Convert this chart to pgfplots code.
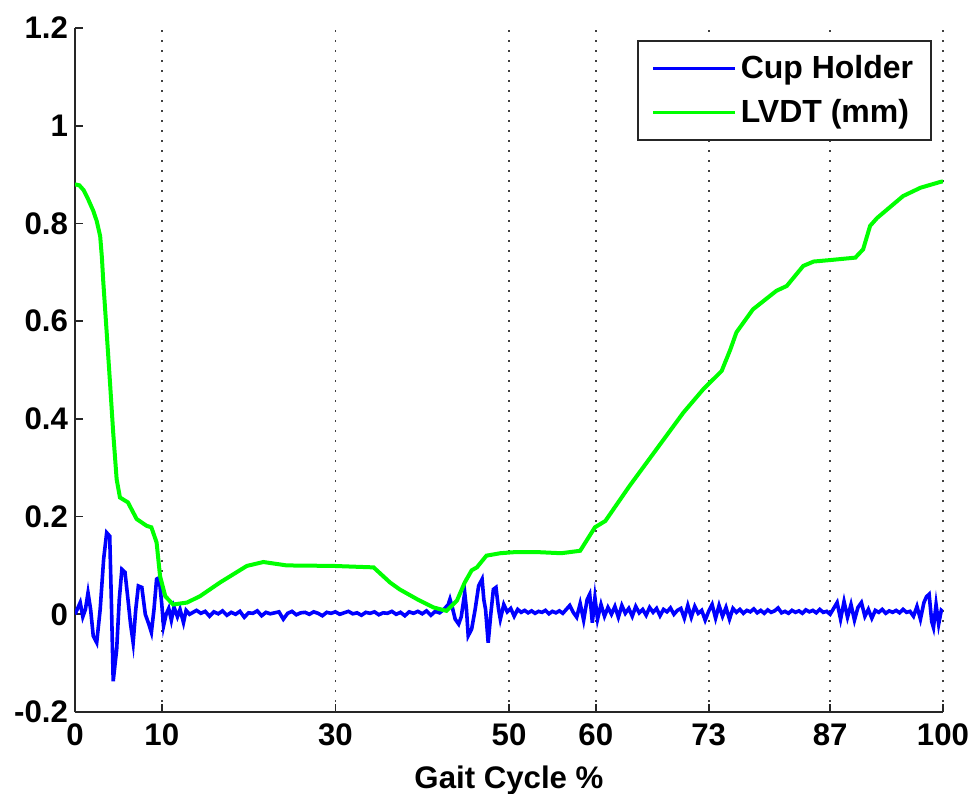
\documentclass[border=0pt]{standalone}
\usepackage{fontspec}
\setmainfont{Liberation Sans}
\usepackage{pgfplots}
\pgfplotsset{compat=1.18}
\usetikzlibrary{calc}

\definecolor{cupblue}{RGB}{0,0,255}
\definecolor{lvdtgreen}{RGB}{0,255,0}

\newcommand{\chartfont}{\bfseries\fontsize{15.6}{18}\selectfont}
\newcommand{\legendfont}{\bfseries\fontsize{16}{18}\selectfont}

\begin{document}
\begin{tikzpicture}
\begin{axis}[
  scale only axis,
  width=434pt, height=342pt,
  xmin=0, xmax=100, ymin=-0.2, ymax=1.2,
  axis x line=bottom, axis y line=left,
  axis line style={-, line width=0.9pt, black!85},
  xtick={0,10,30,50,60,73,87,100},
  xticklabels={0,10,30,50,60,73,87,100},
  ytick={-0.2,0,0.2,0.4,0.6,0.8,1,1.2},
  yticklabels={-0.2,0,0.2,0.4,0.6,0.8,1,1.2},
  tick align=inside,
  major tick length=4pt,
  major tick style={line width=0.9pt, black!85},
  every tick label/.append style={font=\chartfont, text=black},
  xticklabel style={yshift=-2.5pt},
  xmajorgrids,
  major grid style={black!75, line width=0.9pt, dash pattern=on 0.9pt off 4.1pt},
  xlabel={Gait Cycle \%},
  xlabel style={font=\chartfont, yshift=-3pt},
  legend cell align=left,
  legend style={
    at={(axis description cs:1,1)}, anchor=north east,
    xshift=-5.5pt, yshift=-6pt,
    draw=black!85, line width=0.8pt, fill=white,
    font=\legendfont,
    inner xsep=7pt, inner ysep=5.5pt,
    row sep=4.5pt,
  },
  legend image code/.code={\draw[#1, line width=1.5pt] (0pt,0pt) -- (41pt,0pt);},
]

% Cup holder signal
\addplot[cupblue, line width=1.8pt] coordinates {
(0,0.000) (0.3,0.012) (0.6,0.024) (0.9,-0.005) (1.2,0.010) (1.5,0.044)
(1.8,0.010) (2.1,-0.044) (2.5,-0.058) (2.9,0.010) (3.3,0.113) (3.65,0.167)
(4.0,0.160) (4.2,0.020) (4.4,-0.137) (4.8,-0.072) (5.1,0.030) (5.4,0.092)
(5.76,0.086) (6.1,0.031) (6.4,-0.020) (6.7,-0.058) (7.0,0.010) (7.3,0.058)
(7.7,0.055) (8.1,0.000) (8.5,-0.020) (8.8,-0.037) (9.1,0.010) (9.4,0.072)
(9.7,0.075) (10.0,0.020) (10.2,-0.024) (10.5,0.000) (10.8,0.012) (11.1,-0.012)
(11.4,0.015) (11.8,-0.005) (12.1,0.010) (12.5,-0.017) (12.8,0.008) (13.2,0.000)
(13.6,0.004) (14.0,0.008) (14.5,0.002) (15.0,0.006) (15.5,-0.004) (16.0,0.005)
(16.5,0.001) (17.0,0.007) (17.5,-0.002) (18.0,0.004) (18.5,0.000) (19.0,0.006)
(19.5,-0.006) (20.0,0.003) (20.5,0.002) (21.0,0.007) (21.5,-0.003) (22.0,0.004)
(22.5,0.001) (23.0,0.003) (23.5,0.005) (24.0,-0.010) (24.5,0.002) (25.0,0.006)
(25.5,-0.001) (26.0,0.003) (26.5,0.004) (27.0,0.000) (27.5,0.005) (28.0,0.002)
(28.5,-0.003) (29.0,0.004) (29.5,0.002) (30.0,0.005) (30.5,0.000) (31.0,0.003)
(31.5,0.006) (32.0,0.001) (32.5,0.003) (33.0,-0.002) (33.5,0.004) (34.0,0.002)
(34.5,0.005) (35.0,-0.001) (35.5,0.003) (36.0,0.002) (36.5,0.006) (37.0,0.000)
(37.5,0.004) (38.0,-0.003) (38.5,0.005) (39.0,0.002) (39.5,0.006) (40.0,0.001)
(40.5,0.007) (41.0,-0.002) (41.5,0.006) (42.0,0.003) (42.5,0.010) (43.0,0.020)
(43.2,0.031) (43.5,0.012) (43.8,-0.010) (44.2,-0.020) (44.5,-0.005) (44.9,0.044)
(45.1,0.010) (45.3,-0.044) (45.7,-0.030) (46.1,0.010) (46.5,0.058) (46.9,0.072)
(47.1,0.030) (47.3,0.010) (47.6,-0.058) (47.9,0.000) (48.2,0.051) (48.5,0.055)
(48.8,0.010) (49.0,-0.010) (49.4,0.020) (49.8,0.005) (50.2,0.012) (50.6,-0.004)
(51.0,0.010) (51.4,0.004) (51.8,0.008) (52.2,0.003) (52.6,0.007) (53.0,0.002)
(53.4,0.006) (53.8,0.004) (54.2,0.008) (54.6,0.001) (55.0,0.006) (55.4,0.003)
(55.8,0.007) (56.2,0.002) (56.6,0.010) (57.0,0.018) (57.4,0.004) (57.8,-0.006)
(58.2,0.022) (58.6,-0.012) (59.0,0.030) (59.3,0.041) (59.6,-0.017) (59.9,0.034)
(60.2,-0.010) (60.6,0.020) (61.0,-0.004) (61.4,0.014) (61.8,0.000) (62.2,0.016)
(62.6,-0.006) (63.0,0.018) (63.4,0.002) (63.8,0.012) (64.2,-0.004) (64.6,0.016)
(65.0,0.003) (65.4,0.010) (65.8,-0.002) (66.2,0.014) (66.6,0.004) (67.0,0.012)
(67.4,-0.003) (67.8,0.010) (68.2,0.005) (68.6,0.013) (69.0,0.000) (69.4,0.008)
(69.8,0.012) (70.2,-0.008) (70.6,0.018) (71.0,-0.006) (71.4,0.016) (71.8,0.002)
(72.2,0.008) (72.6,-0.012) (73.0,0.006) (73.4,0.020) (73.8,-0.008) (74.2,0.018)
(74.6,-0.004) (75.0,0.014) (75.4,-0.010) (75.8,0.012) (76.2,0.004) (76.6,0.010)
(77.0,0.002) (77.4,0.008) (77.8,0.005) (78.2,0.011) (78.6,0.003) (79.0,0.008)
(79.4,0.002) (79.8,0.009) (80.2,0.004) (80.6,0.007) (81.0,0.013) (81.4,0.003)
(81.8,0.006) (82.2,0.002) (82.6,0.008) (83.0,0.004) (83.4,0.007) (83.8,0.002)
(84.2,0.009) (84.6,0.005) (85.0,0.008) (85.4,0.003) (85.8,0.010) (86.2,0.004)
(86.6,0.006) (87.0,0.000) (87.4,0.012) (87.8,0.024) (88.2,-0.010) (88.6,0.026)
(89.0,-0.006) (89.4,0.020) (89.8,-0.012) (90.2,0.014) (90.6,0.024) (91.0,-0.004)
(91.4,0.010) (91.8,-0.008) (92.2,0.008) (92.6,0.004) (93.0,0.010) (93.4,0.002)
(93.8,0.007) (94.2,0.004) (94.6,0.008) (95.0,0.003) (95.4,0.010) (95.8,0.004)
(96.2,0.006) (96.6,-0.004) (97.0,0.016) (97.4,-0.010) (97.8,0.024) (98.1,0.036)
(98.4,0.041) (98.7,-0.015) (98.9,-0.027) (99.2,0.020) (99.5,-0.020) (99.8,0.008)
(100.0,0.005)
};
\addlegendentry{Cup Holder}

% LVDT displacement (mm)
\addplot[lvdtgreen, line width=2pt] coordinates {
(0,0.880) (0.5,0.878) (1.0,0.868) (1.5,0.850) (2.1,0.826) (2.5,0.805)
(2.9,0.774) (3.1,0.730) (3.26,0.680) (3.65,0.577) (4.03,0.475) (4.4,0.372)
(4.8,0.276) (5.18,0.239) (6.1,0.229) (7.1,0.195) (8.26,0.181) (8.8,0.178)
(9.4,0.147) (9.8,0.078) (10.4,0.037) (11.3,0.020) (12.9,0.024) (14.4,0.037)
(16.7,0.065) (19.8,0.099) (21.7,0.107) (24.4,0.100) (29.7,0.099) (34.4,0.096)
(36.3,0.065) (37.4,0.051) (39.4,0.031) (41.3,0.014) (42.8,0.007) (44.0,0.028)
(44.9,0.065) (45.7,0.090) (46.3,0.096) (47.4,0.120) (49.0,0.125) (50.5,0.127)
(53.6,0.127) (56.0,0.125) (58.2,0.130) (59.9,0.178) (61.1,0.191) (63.9,0.263)
(67.0,0.338) (70.1,0.413) (72.4,0.461) (74.5,0.498) (75.5,0.542) (76.2,0.577)
(78.1,0.624) (80.8,0.662) (82.0,0.672) (83.9,0.713) (85.1,0.722) (87.0,0.725)
(89.9,0.730) (90.8,0.747) (91.6,0.795) (92.4,0.811) (95.4,0.856) (97.4,0.873)
(99.7,0.885) (100,0.886)
};
\addlegendentry{LVDT (mm)}
\end{axis}
\pgfresetboundingbox
\path ($(current axis.south west)+(-37.5pt,-40.5pt)$) rectangle ($(current axis.north east)+(15.5pt,14pt)$);
\end{tikzpicture}
\end{document}
